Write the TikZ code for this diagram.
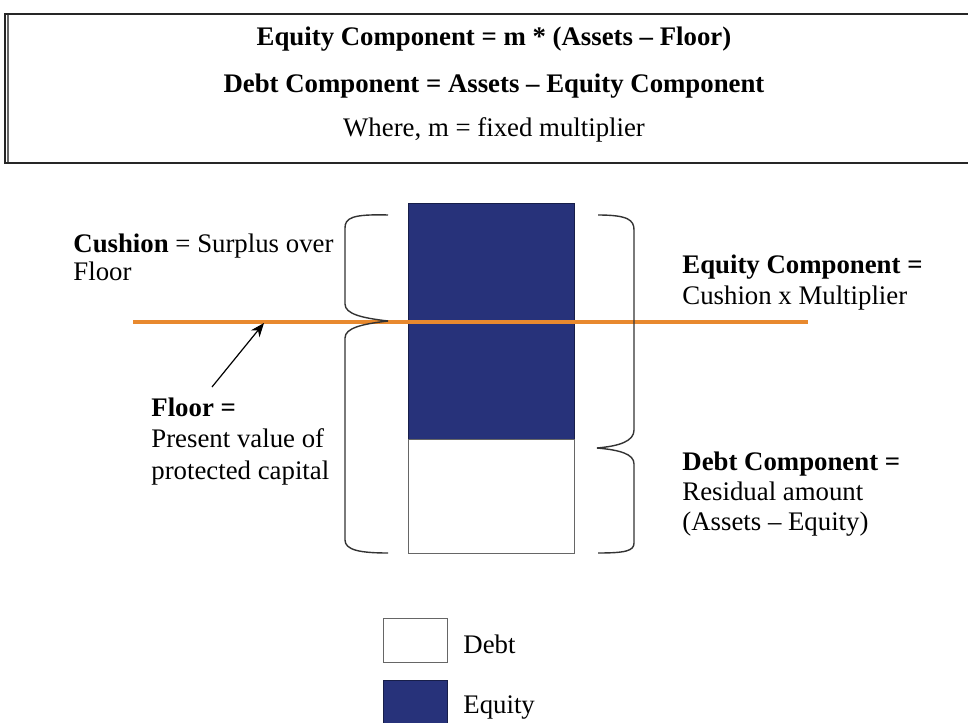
\documentclass[tikz,border=0pt]{standalone}
\usepackage{fontspec}
\setmainfont{Liberation Serif}
\usetikzlibrary{arrows.meta}
\definecolor{eqblue}{HTML}{27327A}
\definecolor{floororange}{HTML}{E8892E}
\definecolor{bracegray}{HTML}{333333}
\begin{document}
\begin{tikzpicture}[x=0.5pt,y=-0.5pt,
  txt/.style={font=\fontsize{13.4}{15.5}\selectfont, inner sep=0pt, align=left},
  brace/.style={draw=bracegray, line width=0.7pt},
  barbox/.style={draw=gray!80!black, line width=0.6pt, inner sep=0pt, anchor=north west, minimum width=83pt},
]
\useasboundingbox (0,0) rectangle (968,722);
% formula box
\draw[line width=1pt, draw=black!85] (5,14) rectangle (1000,163);
\draw[line width=0.6pt, draw=black!60] (8,15) -- (8,162);
\node[txt, anchor=base] (f1) at (494,46) {\textbf{Equity Component = m * (Assets – Floor)}};
\node[txt, anchor=base] (f2) at (494,92) {\textbf{Debt Component = Assets – Equity Component}};
\node[txt, anchor=base] (f3) at (494,136) {Where, m = fixed multiplier};
% column
\node[barbox, fill=eqblue, draw=eqblue!60!black, minimum height=118pt] (equity) at (408,203) {};
\node[barbox, fill=white, minimum height=57pt] (debt) at (408,439) {};
% floor line
\coordinate (floorL) at (133,322);
\coordinate (floorR) at (808,322);
\draw[floororange, line width=2.2pt] (floorL) -- (floorR);
% left braces
\coordinate (lbtip) at (388,321);
\draw[brace] (388,215) .. controls (352,214) and (345,218) .. (345,228) -- (345,304)
  .. controls (345,314) and (362,318) .. (lbtip);
\draw[brace] (lbtip) .. controls (362,324) and (345,328) .. (345,338) -- (345,540)
  .. controls (345,550) and (360,553) .. (388,553);
% right braces
\coordinate (rbtip) at (597,448);
\draw[brace] (598,215) .. controls (628,215) and (634,220) .. (634,230) -- (634,430)
  .. controls (634,441) and (620,446) .. (rbtip);
\draw[brace] (rbtip) .. controls (620,450) and (634,454) .. (634,464) -- (634,543)
  .. controls (634,551) and (625,553) .. (598,553);
% labels (base anchor = last line baseline)
\node[txt, font=\fontsize{13.4}{14}\selectfont, anchor=base west] (cushion) at (73,280) {\textbf{Cushion} = Surplus over\\Floor};
\node[txt, font=\fontsize{13.4}{15.7}\selectfont, anchor=base west] (floortxt) at (151,479) {\textbf{Floor =}\\Present value of\\protected capital};
\node[txt, font=\fontsize{13.4}{15.5}\selectfont, anchor=base west] (eqtxt) at (682,304) {\textbf{Equity Component =}\\Cushion x Multiplier};
\node[txt, font=\fontsize{13.4}{15}\selectfont, anchor=base west] (debttxt) at (682,530) {\textbf{Debt Component =}\\Residual amount\\(Assets – Equity)};
% arrow
\coordinate (arrowtail) at (212,387);
\coordinate (arrowtip) at (264,323);
\draw[-{Stealth[length=7pt,width=5.5pt]}, line width=0.6pt] (arrowtail) -- (arrowtip);
% legend
\node[barbox, minimum width=32pt, minimum height=22pt, fill=white] (legdebt) at (383,618) {};
\node[barbox, minimum width=32pt, minimum height=24pt, fill=eqblue, draw=eqblue!60!black] (legeq) at (383,680) {};
\node[txt, anchor=base west] (legdebttxt) at (463,653) {Debt};
\node[txt, anchor=base west] (legeqtxt) at (463,713) {Equity};
\end{tikzpicture}
\end{document}
